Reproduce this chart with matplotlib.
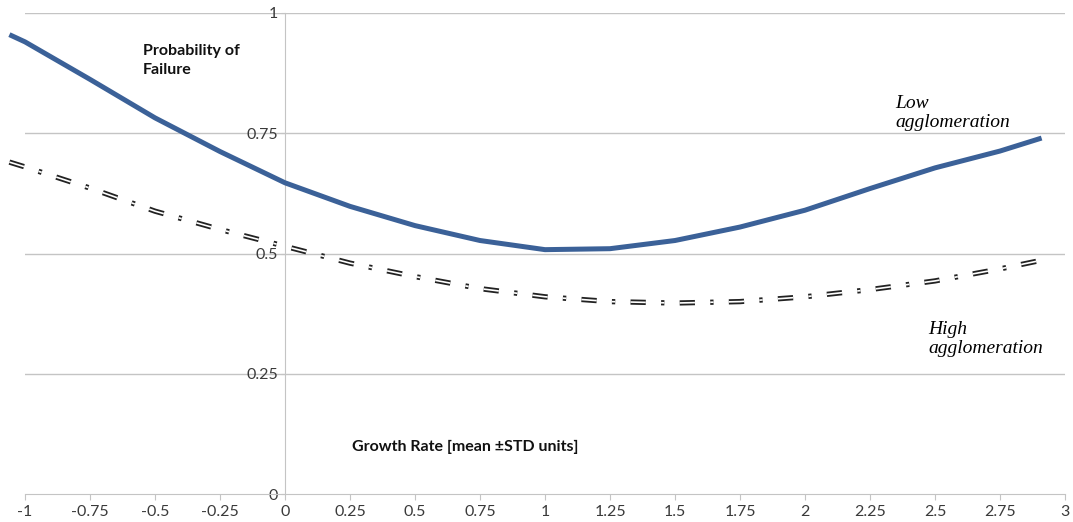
import matplotlib
matplotlib.use("Agg")
import matplotlib.pyplot as plt
from matplotlib import ticker

# values
growth = [-1.06, -1.0, -0.75, -0.5, -0.25, 0.0, 0.25, 0.5, 0.75, 1.0, 1.25,
          1.5, 1.75, 2.0, 2.25, 2.5, 2.75, 2.91]
low_agglo = [0.955, 0.94, 0.862, 0.782, 0.712, 0.647, 0.598, 0.558, 0.527,
             0.508, 0.51, 0.527, 0.555, 0.59, 0.635, 0.678, 0.713, 0.74]
high_agglo = [0.69, 0.68, 0.636, 0.588, 0.55, 0.515, 0.48, 0.452, 0.427,
              0.41, 0.40, 0.397, 0.40, 0.41, 0.425, 0.443, 0.468, 0.486]

x_ticks = [-1, -0.75, -0.5, -0.25, 0, 0.25, 0.5, 0.75, 1, 1.25, 1.5, 1.75,
           2, 2.25, 2.5, 2.75, 3]
x_tick_labels = ["-1", "-0.75", "-0.5", "-0.25", "0", "0.25", "0.5", "0.75",
                 "1", "1.25", "1.5", "1.75", "2", "2.25", "2.5", "2.75", "3"]
y_ticks = [0, 0.25, 0.5, 0.75, 1]
y_tick_labels = ["0", "0.25", "0.5", "0.75", "1"]

plt.rcParams["font.family"] = ["Lato", "DejaVu Sans"]
plt.rcParams["lines.scale_dashes"] = False

GRID = "#c4c4c4"
TICKTXT = "#3a3a3a"

fig = plt.figure(figsize=(10.73, 5.22), dpi=100)
ax = fig.add_axes([25 / 1073, 1 - 494 / 522, 1040 / 1073, 481 / 522])

ax.set_xlim(-1, 3)
ax.set_ylim(0, 1)

# horizontal gridlines
for yv in y_ticks[1:]:
    ax.axhline(yv, color=GRID, lw=1.0, zorder=0)

# low agglomeration
ax.plot(growth, low_agglo, color="#3b6198", lw=3.6, solid_capstyle="butt",
        solid_joinstyle="round", clip_on=False, zorder=3)

# high agglomeration: double-stroke dash-dot
pattern = (0, (11, 11, 2.4, 11))
ax.plot(growth, high_agglo, color="#222222", lw=3.8, linestyle=pattern,
        dash_capstyle="butt", clip_on=False, zorder=3)
ax.plot(growth, high_agglo, color="white", lw=1.2, linestyle=pattern,
        dash_capstyle="butt", clip_on=False, zorder=4)

# spines
for s in ["top", "right"]:
    ax.spines[s].set_visible(False)
ax.spines["left"].set_position(("data", 0))
ax.spines["left"].set_color(GRID)
ax.spines["bottom"].set_color(GRID)
ax.spines["left"].set_zorder(1)

ax.xaxis.set_major_locator(ticker.FixedLocator(x_ticks))
ax.xaxis.set_major_formatter(ticker.FixedFormatter(x_tick_labels))
ax.yaxis.set_major_locator(ticker.FixedLocator(y_ticks))
ax.yaxis.set_major_formatter(ticker.FixedFormatter(y_tick_labels))
ax.tick_params(axis="x", direction="out", length=4, color=GRID,
               labelcolor=TICKTXT, labelsize=11.5, pad=4)
ax.tick_params(axis="y", direction="out", length=3, color=GRID,
               labelcolor=TICKTXT, labelsize=11.5, pad=2)

ax.text(-0.546, 0.935, "Probability of\nFailure", fontsize=11.5,
        fontweight="bold", ha="left", va="top", linespacing=1.45,
        color="#111111")
ax.text(0.692, 0.098, "Growth Rate [mean \u00b1STD units]", fontsize=11.5,
        fontweight="bold", ha="center", va="center", color="#111111")

serif = ["Liberation Serif", "DejaVu Serif"]
ax.text(2.346, 0.792, "Low\nagglomeration", family=serif, style="italic",
        fontsize=14, ha="left", va="center", linespacing=1.18)
ax.text(2.473, 0.322, "High\nagglomeration", family=serif, style="italic",
        fontsize=14, ha="left", va="center", linespacing=1.18)

fig.savefig("out.png", dpi=100)
